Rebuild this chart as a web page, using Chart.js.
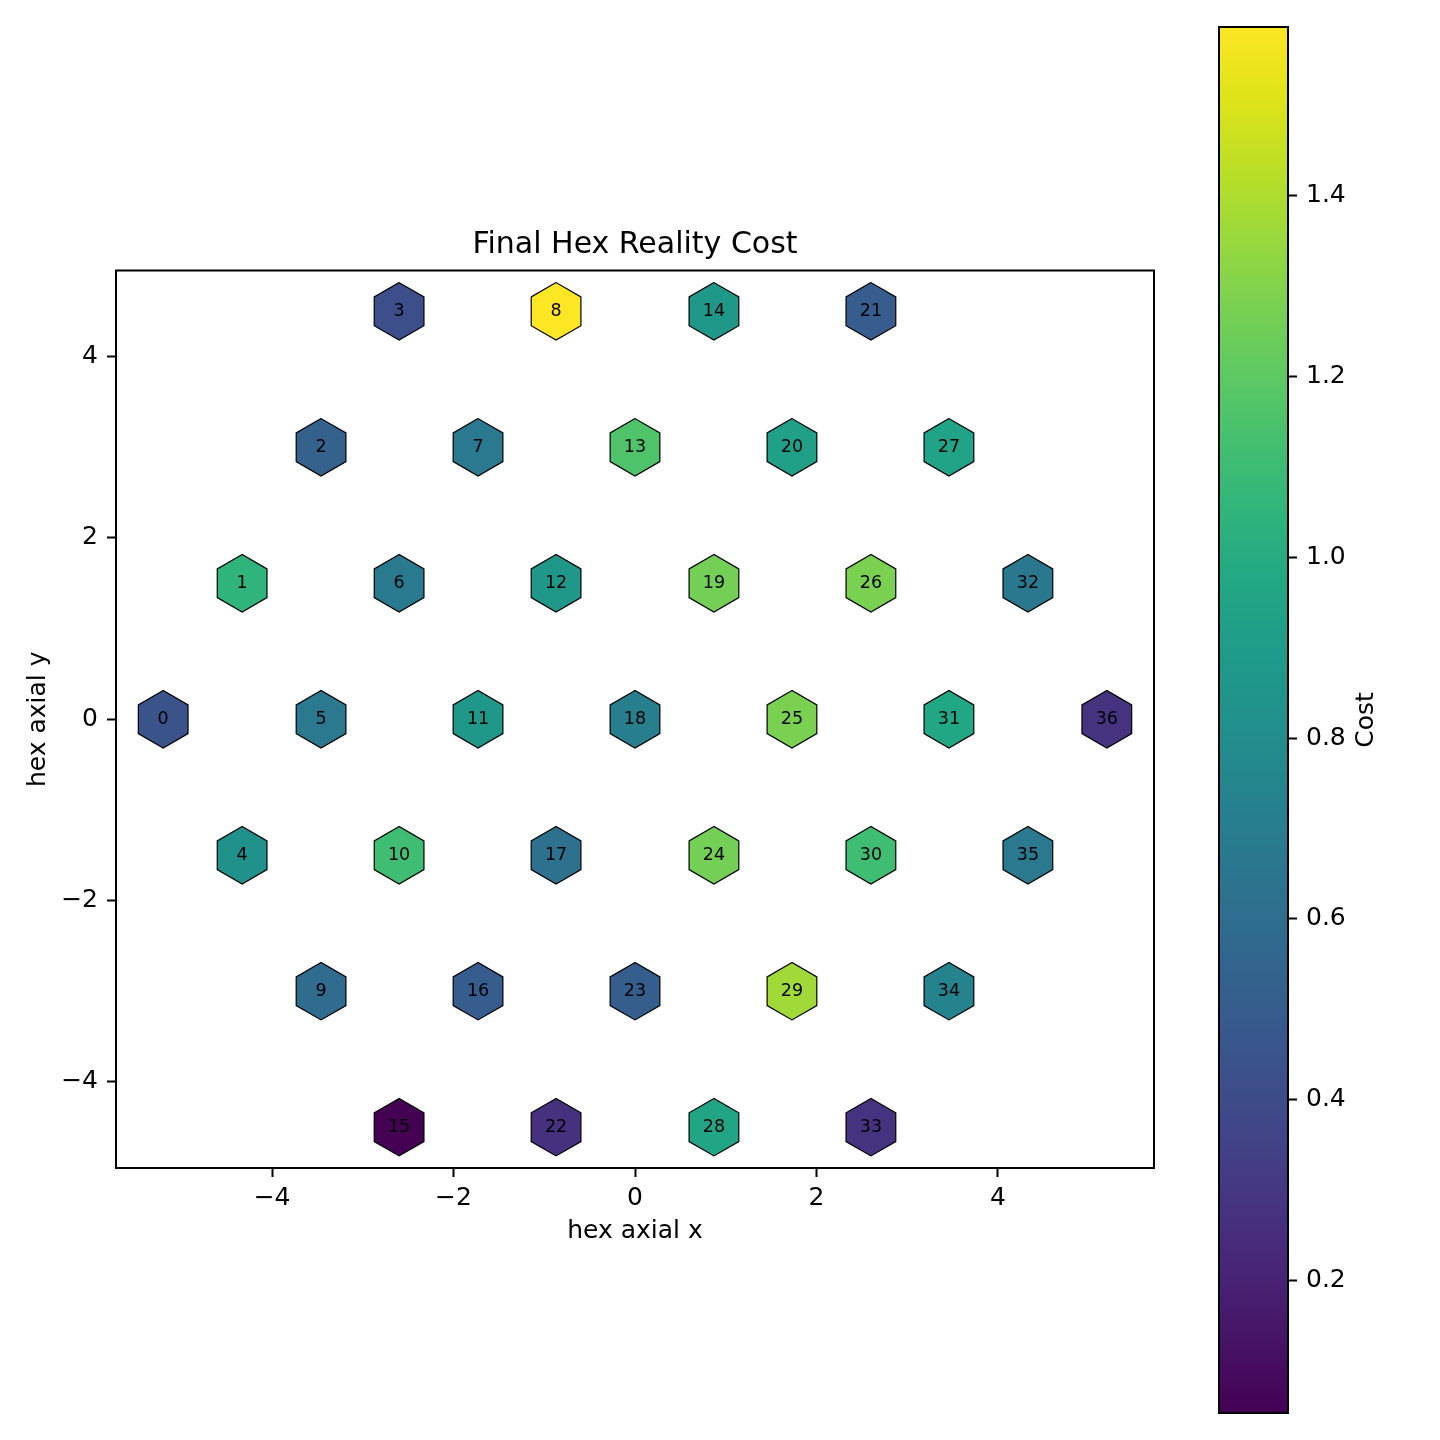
<!DOCTYPE html>
<html>
<head>
<meta charset="utf-8">
<script src="https://cdn.jsdelivr.net/npm/chart.js@4.4.0/dist/chart.umd.min.js"></script>
<style>
  html, body { margin: 0; padding: 0; background: #fff; }
  #wrap { position: relative; width: 1440px; height: 1440px; }
  #main { position: absolute; left: 0; top: 0; }
  #cbar { position: absolute; left: 1190px; top: 0; }
</style>
</head>
<body>
<div id="wrap">
  <canvas id="main" width="1190" height="1440"></canvas>
  <canvas id="cbar" width="250" height="1440"></canvas>
</div>
<script>
// cell ids, hex centres (axis units) and final cost per cell
const CELL_ID = [0, 1, 2, 3, 4, 5, 6, 7, 8, 9, 10, 11, 12, 13, 14, 15, 16, 17, 18,
                 19, 20, 21, 22, 23, 24, 25, 26, 27, 28, 29, 30, 31, 32, 33, 34, 35, 36]
const HEX_X = [-5.20, -4.33, -3.46, -2.60,
               -4.33, -3.46, -2.60, -1.73, -0.87,
               -3.46, -2.60, -1.73, -0.87, 0.00, 0.87,
               -2.60, -1.73, -0.87, 0.00, 0.87, 1.73, 2.60,
               -0.87, 0.00, 0.87, 1.73, 2.60, 3.46,
               0.87, 1.73, 2.60, 3.46, 4.33,
               2.60, 3.46, 4.33, 5.20]
const HEX_Y = [0, 1.5, 3, 4.5,
               -1.5, 0, 1.5, 3, 4.5,
               -3, -1.5, 0, 1.5, 3, 4.5,
               -4.5, -3, -1.5, 0, 1.5, 3, 4.5,
               -4.5, -3, -1.5, 0, 1.5, 3,
               -4.5, -3, -1.5, 0, 1.5,
               -4.5, -3, -1.5, 0]
const COST = [0.44, 1.05, 0.53, 0.42,
              0.82, 0.67, 0.68, 0.67, 1.587,
              0.59, 1.11, 0.87, 0.87, 1.16, 0.87,
              0.053, 0.50, 0.62, 0.71, 1.26, 0.93, 0.50,
              0.27, 0.51, 1.26, 1.28, 1.28, 0.94,
              0.955, 1.37, 1.11, 0.97, 0.665,
              0.28, 0.74, 0.67, 0.28]
const X_TICKS = [-4, -2, 0, 2, 4]
const Y_TICKS = [-4, -2, 0, 2, 4]
const CBAR_TICKS = [0.2, 0.4, 0.6, 0.8, 1.0, 1.2, 1.4]

const VMIN = Math.min(...COST)
const VMAX = Math.max(...COST)

// viridis colour stops
const VIRIDIS = ["#440154", "#471365", "#482475", "#463480", "#414487", "#3b528b", "#355f8d",
  "#2f6c8e", "#2a788e", "#25848e", "#21918c", "#1e9c89", "#22a884", "#2fb47c", "#44bf70",
  "#5ec962", "#7ad151", "#9bd93c", "#bddf26", "#dfe318", "#fde725"]

function hexToRgb(h) {
    return [parseInt(h.slice(1, 3), 16), parseInt(h.slice(3, 5), 16), parseInt(h.slice(5, 7), 16)]
}
function viridis(t) {
    t = Math.max(0, Math.min(1, t))
    let pos = t * (VIRIDIS.length - 1)
    let i = Math.min(Math.floor(pos), VIRIDIS.length - 2)
    let f = pos - i
    let a = hexToRgb(VIRIDIS[i]), b = hexToRgb(VIRIDIS[i + 1])
    let c = a.map((v, k) => Math.round(v + (b[k] - v) * f))
    return `rgb(${c[0]}, ${c[1]}, ${c[2]})`
}

Chart.defaults.font.family = "'DejaVu Sans', sans-serif"
Chart.defaults.color = "#000"

const minus = v => String(v).replace("-", "\u2212")
const HEX_R = 28.7

const hexPlugin = {
    id: "hexCells",
    afterDatasetsDraw(chart) {
        const ctx = chart.ctx
        const meta = chart.getDatasetMeta(0)
        ctx.save()
        meta.data.forEach((pt, i) => {
            ctx.beginPath()
            for (let k = 0; k < 6; k++) {
                let a = Math.PI / 2 + k * Math.PI / 3
                let px = pt.x + HEX_R * Math.cos(a)
                let py = pt.y - HEX_R * Math.sin(a)
                if (k == 0) ctx.moveTo(px, py)
                else ctx.lineTo(px, py)
            }
            ctx.closePath()
            ctx.fillStyle = viridis((COST[i] - VMIN) / (VMAX - VMIN))
            ctx.fill()
            ctx.lineWidth = 1.2
            ctx.strokeStyle = "#000"
            ctx.stroke()
            ctx.fillStyle = "#000"
            ctx.font = "17.5px 'DejaVu Sans'"
            ctx.textAlign = "center"
            ctx.textBaseline = "middle"
            ctx.fillText(String(CELL_ID[i]), pt.x, pt.y)
        })
        ctx.restore()
    }
}

const framePlugin = {
    id: "frame",
    afterDraw(chart) {
        const {ctx, chartArea: a} = chart
        ctx.save()
        ctx.lineWidth = 2
        ctx.strokeStyle = "#000"
        ctx.strokeRect(a.left, a.top, a.right - a.left, a.bottom - a.top)
        ctx.restore()
    }
}

// title centred over the axes box, like matplotlib does
const titlePlugin = {
    id: "axTitle",
    afterDraw(chart) {
        const {ctx, chartArea: a} = chart
        ctx.save()
        ctx.font = "30px 'DejaVu Sans'"
        ctx.fillStyle = "#000"
        ctx.textAlign = "center"
        ctx.textBaseline = "middle"
        ctx.fillText("Final Hex Reality Cost", (a.left + a.right) / 2, a.top - 25)
        ctx.restore()
    }
}

const costLabel = {
    id: "costLabel",
    afterDraw(chart) {
        const ctx = chart.ctx
        const s = chart.scales.y
        ctx.save()
        ctx.translate(s.right - 32, (chart.chartArea.top + chart.chartArea.bottom) / 2)
        ctx.rotate(-Math.PI / 2)
        ctx.font = "25px 'DejaVu Sans'"
        ctx.fillStyle = "#000"
        ctx.textAlign = "center"
        ctx.textBaseline = "middle"
        ctx.fillText("Cost", 0, 0)
        ctx.restore()
    }
}

const axisGrid = {drawOnChartArea: false, tickLength: 9, tickColor: "#000", tickWidth: 2}

// Main hex map
new Chart(document.getElementById("main"), {
    type: "scatter",
    data: {
        datasets: [{
            data: CELL_ID.map(i => ({x: HEX_X[i], y: HEX_Y[i]})),
            pointRadius: 0,
            pointHoverRadius: 0
        }]
    },
    options: {
        responsive: false,
        animation: false,
        events: [],
        layout: {padding: {left: 0, right: 36, top: 270.5, bottom: 172}},
        plugins: {
            legend: {display: false},
            tooltip: {enabled: false},
            title: {display: false}
        },
        scales: {
            x: {
                type: "linear",
                min: -5.72,
                max: 5.72,
                afterBuildTicks: s => { s.ticks = X_TICKS.map(v => ({value: v})) },
                afterFit: s => { s.height = 100 },
                grid: axisGrid,
                border: {display: false},
                ticks: {font: {size: 25}, padding: 6, callback: minus},
                title: {display: true, text: "hex axial x", font: {size: 25}, padding: {top: 0, bottom: 22}}
            },
            y: {
                type: "linear",
                min: -4.95,
                max: 4.95,
                afterBuildTicks: s => { s.ticks = Y_TICKS.map(v => ({value: v})) },
                afterFit: s => { s.width = 116 },
                grid: axisGrid,
                border: {display: false},
                ticks: {font: {size: 25}, padding: 9, callback: minus},
                title: {display: true, text: "hex axial y", font: {size: 25}, padding: {top: 23, bottom: 0}}
            }
        }
    },
    plugins: [hexPlugin, framePlugin, titlePlugin]
});

// Colour bar
new Chart(document.getElementById("cbar"), {
    type: "bar",
    data: {
        labels: [""],
        datasets: [{
            data: [[VMIN, VMAX]],
            backgroundColor: c => {
                const ch = c.chart
                if (!ch.chartArea) return "#21918c"
                const y = ch.scales.y
                let g = ch.ctx.createLinearGradient(0, y.getPixelForValue(VMIN), 0, y.getPixelForValue(VMAX))
                VIRIDIS.forEach((col, i) => g.addColorStop(i / (VIRIDIS.length - 1), col))
                return g
            },
            borderWidth: 0,
            barPercentage: 1,
            categoryPercentage: 1
        }]
    },
    options: {
        responsive: false,
        animation: false,
        events: [],
        layout: {padding: {left: 29, top: 27, bottom: 27, right: 42}},
        plugins: {legend: {display: false}, tooltip: {enabled: false}},
        scales: {
            x: {display: false},
            y: {
                position: "right",
                min: VMIN,
                max: VMAX,
                afterBuildTicks: s => { s.ticks = CBAR_TICKS.map(v => ({value: v})) },
                afterFit: s => { s.width = 110 },
                grid: axisGrid,
                border: {display: false},
                ticks: {font: {size: 25}, padding: 9, callback: v => v.toFixed(1)}
            }
        }
    },
    plugins: [framePlugin, costLabel]
});
</script>
</body>
</html>
